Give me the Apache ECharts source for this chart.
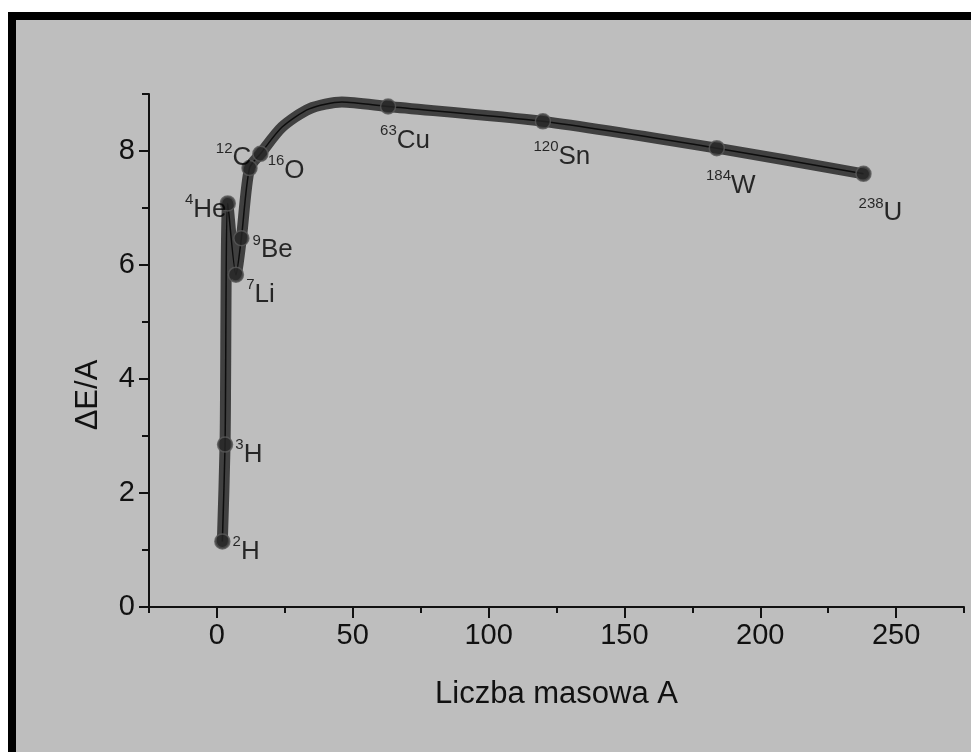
<!DOCTYPE html>
<html>
<head>
<meta charset="utf-8">
<script src="https://cdn.jsdelivr.net/npm/echarts@6/dist/echarts.min.js"></script>
<style>
  html, body { margin: 0; padding: 0; background: #ffffff; }
  #chart { width: 971px; height: 752px; }
</style>
</head>
<body>
<div id="chart"></div>
<script>
// Nuclides (mass number A, binding energy per nucleon ΔE/A)
const nuclideSymbols = ['H', 'H', 'He', 'Li', 'Be', 'C', 'O', 'Cu', 'Sn', 'W', 'U'];
const massNumbers    = [2, 3, 4, 7, 9, 12, 16, 63, 120, 184, 238];
const energyPerA     = [1.15, 2.85, 7.08, 5.83, 6.47, 7.7, 7.95, 8.78, 8.52, 8.05, 7.6];

// Hand-drawn curve traced through the picture
const curveA = [2, 3, 4, 7, 9, 12, 16, 24, 34, 46, 63, 120, 184, 238];
const curveE = [1.15, 2.85, 7.08, 5.83, 6.47, 7.7, 7.95, 8.42, 8.74, 8.86, 8.78, 8.52, 8.05, 7.6];

// Axis ticks
const xMajorTicks = [0, 50, 100, 150, 200, 250];
const xMinorTicks = [-25, 25, 75, 125, 175, 225, 275];
const yMajorTicks = [0, 2, 4, 6, 8];
const yMinorTicks = [1, 3, 5, 7, 9];

const labelPlacement = {
  2:   { position: 'right',  offset: [-2, 8] },
  3:   { position: 'right',  offset: [-2, 8] },
  4:   { position: 'left',   offset: [11, 4] },
  7:   { position: 'right',  offset: [-2, 18] },
  9:   { position: 'right',  offset: [-1, 10] },
  12:  { position: 'left',   offset: [14, -12] },
  16:  { position: 'right',  offset: [-5, 15] },
  63:  { position: 'bottom', offset: [17, 5] },
  120: { position: 'bottom', offset: [19, 6] },
  184: { position: 'bottom', offset: [14, 8] },
  238: { position: 'bottom', offset: [17, 10] }
};

const ink = '#000000';
const fontFam = '"Liberation Sans", Arial, sans-serif';

const curveData = curveA.map((a, i) => [a, curveE[i]]);
const pointData = massNumbers.map((a, i) => ({
  value: [a, energyPerA[i]],
  label: Object.assign({
    show: true,
    color: ink,
    textBorderWidth: 0,
    formatter: '{s|' + a + '}{e|' + nuclideSymbols[i] + '}',
    rich: {
      s: { fontSize: 15, color: ink, fontFamily: fontFam, verticalAlign: 'top', lineHeight: 30, textBorderWidth: 0 },
      e: { fontSize: 26, color: ink, fontFamily: fontFam, verticalAlign: 'bottom', lineHeight: 30, textBorderWidth: 0 }
    },
    distance: 4
  }, labelPlacement[a])
}));

const chart = echarts.init(document.getElementById('chart'), null, { renderer: 'canvas' });

chart.setOption({
  backgroundColor: '#ffffff',
  animation: false,
  graphic: [
    { type: 'rect', z: -10, shape: { x: 8, y: 12, width: 963, height: 740 }, style: { fill: '#000000' }, silent: true },
    { type: 'rect', z: -9, shape: { x: 16, y: 20, width: 955, height: 732 }, style: { fill: '#bebebe' }, silent: true },
    {
      type: 'text', z: 10,
      x: 88, y: 395, rotation: Math.PI / 2,
      style: { text: 'ΔE/A', font: '31px "Liberation Sans", Arial, sans-serif', fill: '#111111', align: 'center', verticalAlign: 'middle' }
    }
  ],
  grid: { left: 149, right: 7, top: 94, bottom: 145, containLabel: false },
  xAxis: [
    {
      type: 'value', min: -25, max: 275, interval: 25,
      name: 'Liczba masowa A', nameLocation: 'middle', nameGap: 72,
      nameTextStyle: { fontSize: 31, color: '#111111', fontFamily: fontFam },
      axisLine: { show: true, onZero: false, lineStyle: { color: '#111111', width: 2 } },
      axisTick: { show: true, length: 11, customValues: xMajorTicks, lineStyle: { color: '#111111', width: 2 } },
      axisLabel: { show: true, customValues: xMajorTicks, fontSize: 29, color: '#111111', fontFamily: fontFam, margin: 14 },
      splitLine: { show: false }
    },
    {
      type: 'value', min: -25, max: 275, interval: 25, position: 'bottom', gridIndex: 0,
      axisLine: { show: false, onZero: false },
      axisTick: { show: true, length: 6, customValues: xMinorTicks, lineStyle: { color: '#111111', width: 2 } },
      axisLabel: { show: false },
      splitLine: { show: false }
    }
  ],
  yAxis: [
    {
      type: 'value', min: 0, max: 9, interval: 1,
      axisLine: { show: true, onZero: false, lineStyle: { color: '#111111', width: 2 } },
      axisTick: { show: true, length: 10, customValues: yMajorTicks, lineStyle: { color: '#111111', width: 2 } },
      axisLabel: { show: true, customValues: yMajorTicks, fontSize: 29, color: '#111111', fontFamily: fontFam, margin: 14 },
      splitLine: { show: false }
    },
    {
      type: 'value', min: 0, max: 9, interval: 1, position: 'left', gridIndex: 0,
      axisLine: { show: false, onZero: false },
      axisTick: { show: true, length: 7, customValues: yMinorTicks, lineStyle: { color: '#111111', width: 2 } },
      axisLabel: { show: false },
      splitLine: { show: false }
    }
  ],
  series: [
    {
      type: 'line', data: curveData, xAxisIndex: 0, yAxisIndex: 0,
      smooth: 0.25, showSymbol: false, silent: true,
      lineStyle: { color: '#404040', width: 11, cap: 'round', join: 'round' }, z: 2
    },
    {
      type: 'line', data: curveData, xAxisIndex: 0, yAxisIndex: 0,
      smooth: 0.25, showSymbol: false, silent: true,
      lineStyle: { color: '#0d0d0d', width: 1.5 }, z: 3
    },
    {
      type: 'scatter', data: pointData, xAxisIndex: 0, yAxisIndex: 0,
      symbol: 'circle', symbolSize: 15,
      itemStyle: { color: '#262626', borderColor: '#5a5a5a', borderWidth: 1.5 }, z: 4
    }
  ]
});
</script>
</body>
</html>
